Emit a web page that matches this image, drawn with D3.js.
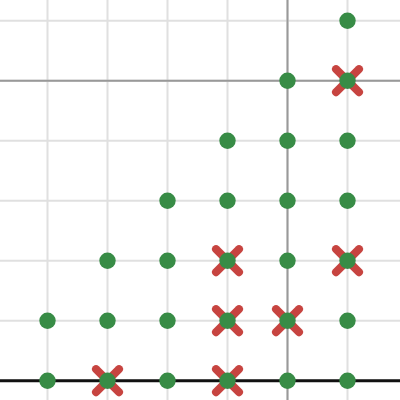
<!DOCTYPE html>
<html>
<head>
	<meta charset="utf-8">
	<script src="https://cdnjs.cloudflare.com/ajax/libs/d3/7.8.5/d3.min.js"></script>
	<style>
		body { margin: 0; background: white; }
		svg { display: block; }
	</style>
</head>
<body>
	<svg id="chart"></svg>
	<script>
		// lattice points (n, k)
		var dotX = [1,1, 2,2,2, 3,3,3,3, 4,4,4,4,4, 5,5,5,5,5,5, 6,6,6,6,6,6,6];
		var dotY = [0,1, 0,1,2, 0,1,2,3, 0,1,2,3,4, 0,1,2,3,4,5, 0,1,2,3,4,5,6];
		// crossed-out points
		var crossX = [2,4,4,4,5,6,6];
		var crossY = [0,0,1,2,1,2,5];
		var gridVals = [0,1,2,3,4,5,6,7];
		var majorVals = [5];

		var W = 400, H = 400;
		var x = d3.scaleLinear().domain([0,6]).range([-12.5, 347.5]);
		var y = d3.scaleLinear().domain([0,6]).range([380.7, 20.7]);

		var svg = d3.select("#chart").attr("width", W).attr("height", H);

		// minor grid
		svg.selectAll(".vg").data(gridVals).enter().append("line")
			.attr("x1", d => x(d)).attr("x2", d => x(d))
			.attr("y1", 0).attr("y2", H)
			.attr("stroke", "#e0e0e0").attr("stroke-width", 2);
		svg.selectAll(".hg").data(gridVals).enter().append("line")
			.attr("y1", d => y(d)).attr("y2", d => y(d))
			.attr("x1", 0).attr("x2", W)
			.attr("stroke", "#e0e0e0").attr("stroke-width", 2);

		// major grid
		svg.selectAll(".vm").data(majorVals).enter().append("line")
			.attr("x1", d => x(d)).attr("x2", d => x(d))
			.attr("y1", 0).attr("y2", H)
			.attr("stroke", "#999999").attr("stroke-width", 2);
		svg.selectAll(".hm").data(majorVals).enter().append("line")
			.attr("y1", d => y(d)).attr("y2", d => y(d))
			.attr("x1", 0).attr("x2", W)
			.attr("stroke", "#999999").attr("stroke-width", 2);

		// x axis
		svg.append("line")
			.attr("x1", 0).attr("x2", W)
			.attr("y1", y(0)).attr("y2", y(0))
			.attr("stroke", "#111").attr("stroke-width", 3);

		// crosses
		var arm = 11.5;
		var crosses = svg.selectAll(".cross").data(crossX).enter().append("g")
			.attr("transform", (d, i) => "translate(" + x(d) + "," + y(crossY[i]) + ")");
		crosses.append("line").attr("x1", -arm).attr("y1", -arm).attr("x2", arm).attr("y2", arm);
		crosses.append("line").attr("x1", -arm).attr("y1", arm).attr("x2", arm).attr("y2", -arm);
		crosses.selectAll("line")
			.attr("stroke", "#c74440").attr("stroke-width", 8).attr("stroke-linecap", "round");

		// dots
		svg.selectAll(".dot").data(dotX).enter().append("circle")
			.attr("cx", d => x(d))
			.attr("cy", (d, i) => y(dotY[i]))
			.attr("r", 8.2)
			.attr("fill", "#388c46");
	</script>
</body>
</html>
